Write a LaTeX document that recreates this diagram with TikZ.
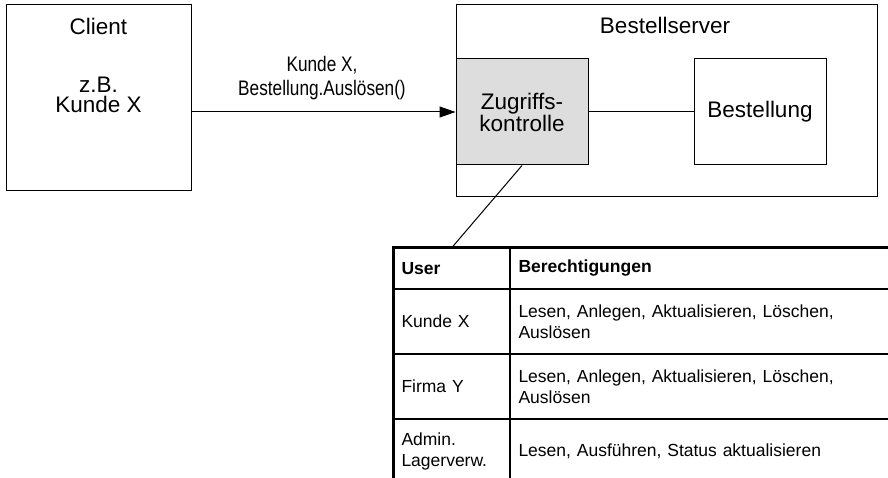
\documentclass[tikz,border=0pt]{standalone}
\usepackage{fontspec}
\setmainfont{Liberation Sans}
\newfontfamily\narrowsf[FakeStretch=0.82]{Liberation Sans}
\usepackage{xcolor}
\definecolor{acgray}{RGB}{221,221,221}
\usetikzlibrary{arrows.meta, positioning}
\newcommand{\boxfont}{\fontsize{22.5}{20}\selectfont}
\newcommand{\msgfont}{\narrowsf\fontsize{21}{24}\selectfont}
\newcommand{\tblfont}{\fontsize{17.5}{21}\selectfont}

\begin{document}
\begin{tikzpicture}[
    x=1pt, y=-1pt,
    box/.style={draw, line width=1pt, inner sep=0pt},
    txt/.style={font=\boxfont, align=center, inner sep=0pt},
    arr/.style={-{Triangle[length=16pt, width=11pt]}, line width=1pt},
    cell/.style={draw, line width=1pt, font=\tblfont, align=left,
                 inner xsep=8pt, inner ysep=0pt},
    ucell/.style={cell, text width=100pt},
    rcell/.style={cell, text width=384pt},
    frame/.style={line width=3pt}
  ]
  \useasboundingbox (0,0) rectangle (888,478);
  \clip (0,0) rectangle (888,478);

  % client
  \node[box, minimum width=185pt, minimum height=186pt] (client) at (98.5,98) {};
  \node[txt, anchor=base] (clientname) at (98.5,35)  {Client};
  \node[txt, anchor=base] (clientex)   at (98.5,113) {z.B.\\Kunde X};

  % server with access control
  \node[box, minimum width=421pt, minimum height=192pt] (server) at (666.5,101) {};
  \node[txt, anchor=base] (servername) at (665,34) {Bestellserver};
  \node[box, txt, fill=acgray, minimum width=132pt, minimum height=106pt]
    (zugriff) at (522,112) {Zugriffs-\\kontrolle};
  \node[box, txt, minimum width=132pt, minimum height=106pt]
    (bestellung) at (760,112) {Bestellung};

  \node[font=\msgfont, align=center, inner sep=0pt, anchor=base]
    (msg) at (322,96) {Kunde X,\\Bestellung.Auslösen()};
  \draw[arr] (zugriff.west -| client.east) -- (zugriff.west);
  \draw[line width=1pt] (zugriff) -- (bestellung);

  % permission table
  \node[ucell, anchor=north west, minimum height=40pt] (user) at (393,248) {\textbf{User}};
  \node[rcell, right=0pt of user, minimum height=40pt] (rights) {\textbf{Berechtigungen}};
  \node[ucell, below=0pt of user, minimum height=64pt] (kunde) {Kunde X};
  \node[rcell, right=0pt of kunde, minimum height=64pt] (kunderights)
    {Lesen, Anlegen, Aktualisieren, Löschen,\\Auslösen};
  \node[ucell, below=0pt of kunde, minimum height=64pt] (firma) {Firma Y};
  \node[rcell, right=0pt of firma, minimum height=64pt] (firmarights)
    {Lesen, Anlegen, Aktualisieren, Löschen,\\Auslösen};
  \node[ucell, below=0pt of firma, minimum height=64pt] (admin) {Admin.\\Lagerverw.};
  \node[rcell, right=0pt of admin, minimum height=64pt] (adminrights)
    {Lesen, Ausführen, Status aktualisieren};
  \draw[frame] (admin.south west) -- (user.north west) -- (rights.north east);

  \draw[line width=1pt] (zugriff.south) -- (user.north);
\end{tikzpicture}
\end{document}
